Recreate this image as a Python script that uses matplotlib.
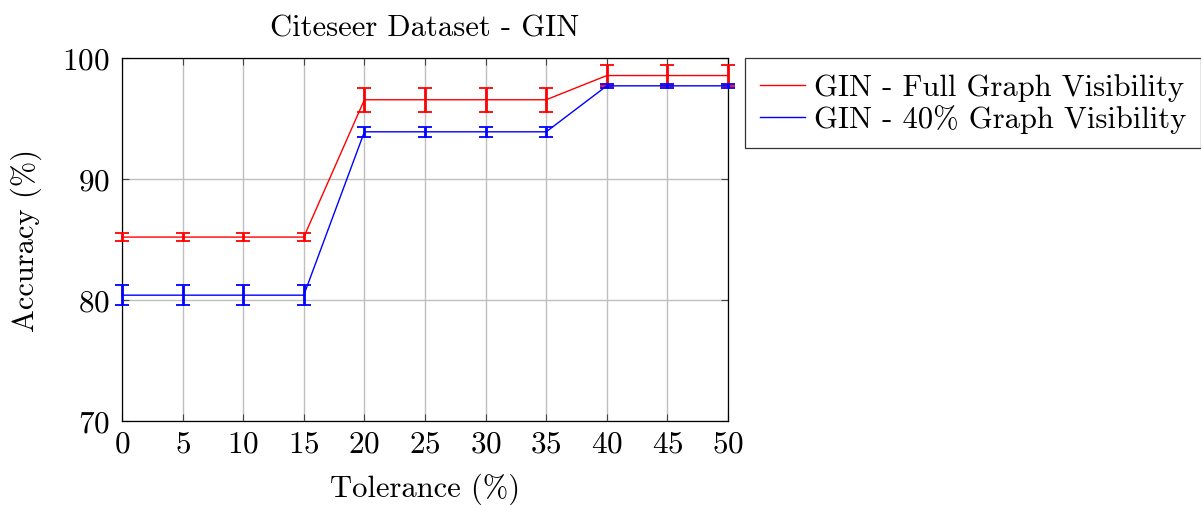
import matplotlib
matplotlib.use("Agg")
import matplotlib.pyplot as plt
from matplotlib.lines import Line2D

plt.rcParams["font.family"] = "serif"
plt.rcParams["font.serif"] = ["cmr10", "DejaVu Serif"]
plt.rcParams["mathtext.fontset"] = "cm"
plt.rcParams["axes.formatter.use_mathtext"] = True

tolerance = [0, 5, 10, 15, 20, 25, 30, 35, 40, 45, 50]
full_acc = [85.2, 85.2, 85.2, 85.2, 96.55, 96.55, 96.55, 96.55, 98.55, 98.55, 98.55]
full_err = [0.35, 0.35, 0.35, 0.35, 1.0, 1.0, 1.0, 1.0, 0.85, 0.85, 0.85]
part_acc = [80.4, 80.4, 80.4, 80.4, 93.9, 93.9, 93.9, 93.9, 97.7, 97.7, 97.7]
part_err = [0.85, 0.85, 0.85, 0.85, 0.4, 0.4, 0.4, 0.4, 0.15, 0.15, 0.15]

labels = ["GIN - Full Graph Visibility", "GIN - 40% Graph Visibility"]

fig = plt.figure(figsize=(12.01, 5.06), dpi=100)
ax = fig.add_axes([122 / 1201, 1 - 422 / 506, 606 / 1201, 363 / 506])

for acc, err, col in [(full_acc, full_err, "red"), (part_acc, part_err, "blue")]:
    ax.errorbar(tolerance, acc, yerr=err, color=col, lw=1.0,
                elinewidth=2.0, capsize=5, capthick=1.3, clip_on=False, zorder=3)

ax.set_xlim(0, 50)
ax.set_ylim(70, 100)
ax.set_xticks(tolerance)
ax.set_yticks([70, 80, 90, 100])
ax.grid(color="#bfbfbf", lw=1.0)
ax.set_axisbelow(True)
ax.tick_params(direction="in", top=True, right=True, length=5, width=0.8,
               color="#444444", labelsize=22.5)
ax.tick_params(axis="x", pad=6)
ax.tick_params(axis="y", pad=9)
for s in ax.spines.values():
    s.set_linewidth(0.9)

ax.set_xlabel("Tolerance (%)", fontsize=22, labelpad=11)
ax.set_ylabel("Accuracy (%)", fontsize=22, labelpad=14)
ax.set_title("Citeseer Dataset - GIN", fontsize=22, pad=16)

handles = [Line2D([], [], color="red", lw=1.0), Line2D([], [], color="blue", lw=1.0)]
leg = ax.legend(handles, labels, loc="upper left", bbox_to_anchor=(1.028, 1.0),
                fontsize=22, frameon=True, fancybox=False, edgecolor="black",
                handlelength=1.45, handletextpad=0.3, borderpad=0.5,
                labelspacing=0.1, borderaxespad=0)
leg.get_frame().set_linewidth(0.9)

fig.savefig("out.png", dpi=100)
